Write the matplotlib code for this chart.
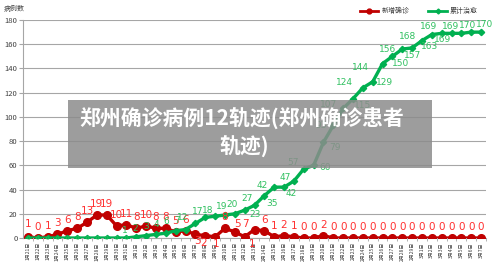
import matplotlib
matplotlib.use("Agg")
import matplotlib.pyplot as plt
from matplotlib.patches import Rectangle
from matplotlib.lines import Line2D

plt.rcParams['font.family'] = ['Noto Sans CJK SC', 'DejaVu Sans']

# dates 1/21 .. 3/7
dates = ["1月%d日" % d for d in range(21, 32)] + \
        ["2月%d日" % d for d in range(1, 30)] + \
        ["3月%d日" % d for d in range(1, 8)]

new_cases = [1, 0, 1, 3, 6, 8, 13, 19, 19, 10, 11, 8, 10, 8, 8, 5, 6, 3, 2, 1,
             8, 5, 1, 7, 6, 1, 2, 1, 0, 0, 2, 0, 0, 0, 0, 0, 0, 0, 0, 0,
             0, 0, 0, 0, 0, 0, 0]
cured = [0, 0, 0, 0, 0, 0, 0, 0, 0, 0, 0, 1, 2, 3, 4, 6, 7, 12, 17, 18,
         19, 20, 23, 27, 35, 42, 42, 47, 57, 60, 79, 93, 107, 115, 124, 129, 144, 150, 156, 157,
         163, 168, 169, 169, 169, 170, 170]

# label offsets in pixels (dx, dy up)
red_off = [(0, 11)] * len(new_cases)
red_off = list(red_off)
red_off[0] = (0, 13)
red_off[17] = (2, -7)
red_off[18] = (-2, -7)
red_off[19] = (1, -7)
red_off[22] = (7, -7)
red_off[23] = (-9, 6)
red_off[21] = (3, 8)

green_off = [(0, 0)] * 11 + [
    (-11, 6), (-11, 7), (-10, 8), (-9, 9), (-9, 9), (-8, 9), (-13, 6), (-8, 6),
    (-7, 6), (-3, 9), (-3, 9), (10, -4), (-7, 7), (8, -8), (-12, 2), (7, -6),
    (-9, 4), (-11, 6), (12, -2), (12, -5), (-12, 0), (-15, 4), (10, -7), (-18, 5),
    (12, -1), (-22, -4), (8, -7), (-15, 0), (0, -8), (8, -6), (-24, -2), (-13, 7),
    (-9, -6), (-11, 7), (-4, 7), (4, 8)]

fig = plt.figure(figsize=(5, 2.69), dpi=100)
ax = fig.add_axes([0.046, 0.1152, 0.926, 0.8104])

x = list(range(len(dates)))
ax.plot(x, new_cases, color='#c00000', lw=2.4, marker='o', ms=5.5, zorder=3)
ax.plot(x, cured, color='#00b050', lw=2.4, marker='D', ms=3.2, zorder=4)

for i, v in enumerate(new_cases):
    ax.annotate(str(v), (i, v), xytext=red_off[i], textcoords='offset pixels',
                ha='center', va='center', fontsize=7.5, color='#ff3030',
                family='DejaVu Sans', zorder=5)
for i, v in enumerate(cured):
    if v == 0:
        ax.annotate(str(v), (i, v), xytext=(0, 0), textcoords='offset pixels',
                    ha='center', va='center', fontsize=4, color='#30c060',
                    family='DejaVu Sans', zorder=5)
        continue
    ax.annotate(str(v), (i, v), xytext=green_off[i], textcoords='offset pixels',
                ha='center', va='center', fontsize=6.5, color='#30c060',
                family='DejaVu Sans', zorder=5)

ax.set_xlim(-0.5, len(dates) - 0.5)
ax.set_ylim(0, 180)
ax.set_yticks(range(0, 181, 20))
ax.yaxis.grid(True, color='#a6a6a6', lw=0.8)
ax.set_axisbelow(True)
ax.set_xticks(x)
ax.set_xticklabels(dates, rotation=90, fontsize=3.6, color='#404040')
ax.set_xticks([i + 0.5 for i in x], minor=True)
ax.tick_params(axis='x', which='major', length=0, pad=3)
ax.tick_params(axis='x', which='minor', length=2, color='#a6a6a6')
ax.tick_params(axis='y', length=3, color='#a6a6a6', labelsize=5.5, labelcolor='#404040', pad=1)
for s in ('top', 'right'):
    ax.spines[s].set_visible(False)
ax.spines['left'].set_color('#a6a6a6')
ax.spines['bottom'].set_color('#a6a6a6')

fig.text(0.008, 1 - 9 / 269, "病例数", fontsize=5, color='#404040', va='center')

# legend drawn by hand
ly = 1 - 11 / 269
fig.add_artist(Line2D([360 / 500, 378 / 500], [ly, ly], color='#c00000', lw=2))
fig.add_artist(Line2D([369 / 500], [ly], color='#c00000', marker='o', ms=3.5))
fig.text(382 / 500, ly, "新增确诊", fontsize=5, color='#404040', va='center')
fig.add_artist(Line2D([428 / 500, 447 / 500], [ly, ly], color='#00b050', lw=2))
fig.add_artist(Line2D([437.5 / 500], [ly], color='#00b050', marker='D', ms=2.5))
fig.text(450 / 500, ly, "累计治愈", fontsize=5, color='#404040', va='center')

# title overlay
fig.patches.append(Rectangle((68 / 500, 1 - 168 / 269), 364 / 500, 68 / 269,
                             transform=fig.transFigure, facecolor='#8c8c8c',
                             alpha=0.85, edgecolor='none', zorder=10))
fig.text(0.484, 1 - 118 / 269, "郑州确诊病例12轨迹(郑州确诊患者", fontsize=15,
         fontweight='bold', color='white', ha='center', va='center', zorder=11)
fig.text(0.488, 1 - 146 / 269, "轨迹)", fontsize=15,
         fontweight='bold', color='white', ha='center', va='center', zorder=11)

fig.savefig("out.png", dpi=100)
